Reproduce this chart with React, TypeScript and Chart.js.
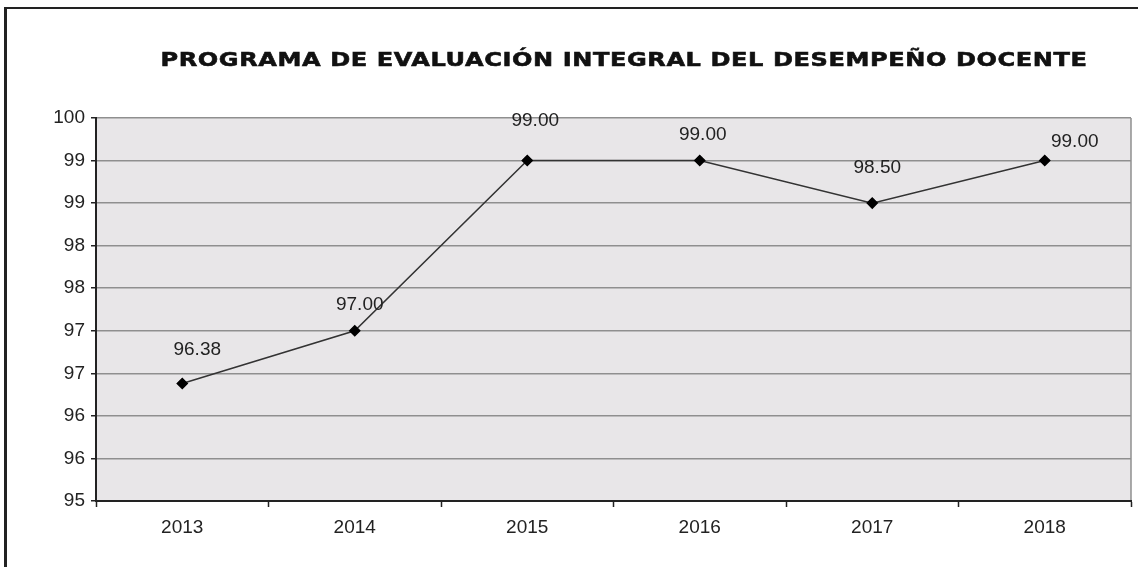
import React, { useEffect, useRef } from "react";
import { Chart, registerables } from "chart.js";

Chart.register(...registerables);

const chartTitle = "PROGRAMA DE EVALUACIÓN INTEGRAL DEL DESEMPEÑO DOCENTE";
const years = ["2013", "2014", "2015", "2016", "2017", "2018"];
const scores = [96.38, 97.0, 99.0, 99.0, 98.5, 99.0];
const yMin = 95;
const yMax = 99.5;
const yStep = 0.5;
// label nudges (px) relative to each point, as placed in the original
const labelDx = [15, 5, 8, 3, 5, 30];
const labelDy = [34, 26, 40, 26, 35, 19];

export default function App() {
  const ref = useRef<HTMLCanvasElement | null>(null);

  useEffect(() => {
    document.body.style.margin = "0";
    const canvas = ref.current;
    if (!canvas) return;

    const bgPlugin = {
      id: "plotBg",
      beforeDraw(chart: any) {
        const { ctx, chartArea } = chart;
        ctx.save();
        ctx.fillStyle = "#e8e6e8";
        ctx.fillRect(chartArea.left, chartArea.top, chartArea.right - chartArea.left, chartArea.bottom - chartArea.top);
        ctx.strokeStyle = "#8f8f8f";
        ctx.lineWidth = 1.5;
        ctx.beginPath();
        ctx.moveTo(chartArea.right, chartArea.top);
        ctx.lineTo(chartArea.right, chartArea.bottom);
        ctx.stroke();
        ctx.restore();
      },
    };

    const titlePlugin = {
      id: "wideTitle",
      afterDraw(chart: any) {
        const ctx = chart.ctx;
        ctx.save();
        ctx.font = "bold 20px 'DejaVu Sans'";
        (ctx as any).letterSpacing = "0.5px";
        const w = ctx.measureText(chartTitle).width;
        const target = 927;
        const cx = 624;
        ctx.translate(cx, 66);
        ctx.scale(target / w, 1);
        ctx.fillStyle = "#111";
        ctx.strokeStyle = "#111";
        ctx.lineWidth = 0.6;
        ctx.textAlign = "center";
        ctx.textBaseline = "alphabetic";
        ctx.fillText(chartTitle, 0, 0);
        ctx.strokeText(chartTitle, 0, 0);
        ctx.restore();
      },
    };

    const labelPlugin = {
      id: "pointLabels",
      afterDatasetsDraw(chart: any) {
        const ctx = chart.ctx;
        const meta = chart.getDatasetMeta(0);
        ctx.save();
        ctx.font = "19px 'Liberation Sans', Arial, sans-serif";
        ctx.fillStyle = "#222";
        ctx.textAlign = "center";
        ctx.textBaseline = "middle";
        meta.data.forEach((pt: any, i: number) => {
          ctx.fillText(scores[i].toFixed(2), pt.x + labelDx[i], pt.y - labelDy[i]);
        });
        ctx.restore();
      },
    };

    const chart = new Chart(canvas, {
      type: "line",
      data: {
        labels: years,
        datasets: [
          {
            data: scores,
            borderColor: "#333",
            borderWidth: 1.5,
            pointStyle: "rectRot",
            pointRadius: 5,
            pointBackgroundColor: "#000",
            pointBorderColor: "#000",
            tension: 0,
          },
        ],
      },
      options: {
        responsive: false,
        maintainAspectRatio: false,
        animation: false,
        layout: { padding: { top: 118, right: 7, left: 0, bottom: 0 } },
        plugins: {
          legend: { display: false },
          title: { display: false },
          tooltip: { enabled: false },
        },
        scales: {
          x: {
            offset: true,
            grid: {
              offset: true,
              drawOnChartArea: false,
              drawTicks: true,
              tickLength: 6,
              tickColor: "#222",
              tickWidth: 1.5,
            },
            border: { color: "#222", width: 2 },
            ticks: {
              color: "#222",
              padding: 9,
              font: { family: "'Liberation Sans', Arial, sans-serif", size: 19 },
            },
            afterFit(scale: any) {
              scale.height = 66;
            },
          },
          y: {
            min: yMin,
            max: yMax,
            ticks: {
              stepSize: yStep,
              color: "#222",
              padding: 6,
              font: { family: "'Liberation Sans', Arial, sans-serif", size: 19 },
              callback: (v: any) => String(Math.round(Number(v))),
            },
            grid: {
              color: "#8f8f8f",
              lineWidth: 1.5,
              tickLength: 5,
              tickColor: "#222",
              tickWidth: 1.5,
            },
            border: { color: "#222", width: 2 },
            afterFit(scale: any) {
              scale.width = 96;
            },
          },
        },
      },
      plugins: [bgPlugin, labelPlugin, titlePlugin],
    });

    return () => chart.destroy();
  }, []);

  return (
    <div style={{ position: "fixed", left: 0, top: 0, width: 1138, height: 567, background: "#fff", overflow: "hidden" }}>
      <div
        style={{
          position: "absolute",
          left: 4,
          top: 7,
          width: 1200,
          height: 600,
          borderLeft: "3px solid #222",
          borderTop: "2px solid #222",
        }}
      />
      <canvas ref={ref} width={1138} height={567} style={{ position: "absolute", left: 0, top: 0 }} />
    </div>
  );
}
